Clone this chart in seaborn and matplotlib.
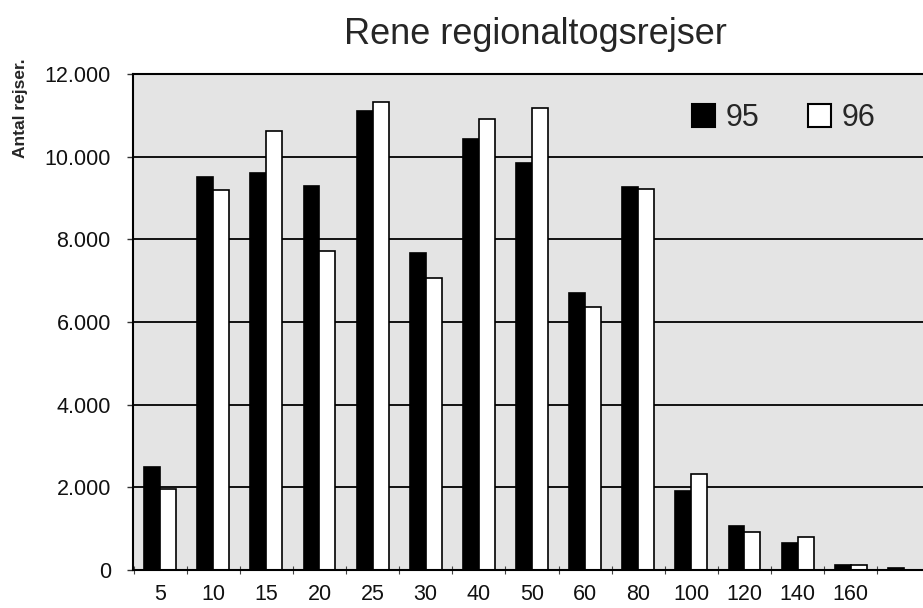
import matplotlib
matplotlib.use("Agg")
import matplotlib.pyplot as plt
import matplotlib.patches as mpatches
from matplotlib.ticker import FuncFormatter
import numpy as np
import pandas as pd
import seaborn as sns

# ---- data ----
title = "Rene regionaltogsrejser"
ylabel = "Antal rejser."
categories = ["5", "10", "15", "20", "25", "30", "40", "50", "60", "80",
              "100", "120", "140", "160", ""]
years = ["95", "96"]
values_95 = [2480, 9500, 9600, 9300, 11100, 7680, 10420, 9840, 6700, 9270,
             1910, 1070, 645, 120, 55]
values_96 = [1950, 9190, 10630, 7720, 11320, 7060, 10900, 11180, 6360, 9220,
             2320, 930, 790, 110, 0]
yticks = [0, 2000, 4000, 6000, 8000, 10000, 12000]

df = pd.DataFrame({
    "afstand": categories * 2,
    "aar": [years[0]] * len(categories) + [years[1]] * len(categories),
    "rejser": values_95 + values_96,
})

sns.set_style("white")
plt.rcParams["font.family"] = ["Liberation Sans", "DejaVu Sans"]

W, H = 923, 608
fig = plt.figure(figsize=(W / 100, H / 100), dpi=100)
ax = fig.add_axes([133 / W, 1 - 570 / H, 790 / W, (570 - 74) / H])
ax.set_facecolor("#e4e4e4")

colors = {"95": "black", "96": "white"}
sns.barplot(data=df, x="afstand", y="rejser", hue="aar", order=categories,
            hue_order=years, palette=colors, edgecolor="black", linewidth=1.2,
            width=0.6, gap=0, saturation=1, ax=ax, legend=False, errorbar=None)

ax.set_ylim(0, 12000)
ax.set_xlim(-0.51, 14.36)
ax.set_yticks(yticks)
ax.yaxis.set_major_formatter(FuncFormatter(lambda v, p: f"{v:,.0f}".replace(",", ".")))
ax.set_xlabel("")
ax.set_ylabel("")

ax.yaxis.grid(True, color="black", linewidth=1.3)
ax.xaxis.grid(False)
ax.set_axisbelow(True)

for side in ["top", "left", "bottom"]:
    ax.spines[side].set_visible(True)
    ax.spines[side].set_color("black")
    ax.spines[side].set_linewidth(1.5)
ax.spines["right"].set_visible(False)

ax.tick_params(axis="y", length=4, width=1, pad=12, labelsize=15.5,
               direction="out", left=True, color="#333333", labelcolor="#111111")
ax.tick_params(axis="x", which="major", length=0, pad=10, labelsize=15.5,
               labelcolor="#111111")
ax.set_xticks(np.arange(-0.5, 14.5, 1), minor=True)
ax.tick_params(axis="x", which="minor", length=6, width=0.8, direction="inout",
               bottom=True, color="#444444")

# legend
handles = [mpatches.Patch(facecolor=colors[y], edgecolor="black", linewidth=1.5)
           for y in years]
ax.legend(handles, years, loc="center left",
          bbox_to_anchor=(692 / W, 1 - 118 / H), bbox_transform=fig.transFigure,
          frameon=False, ncol=2, fontsize=22, handlelength=0.75,
          handleheight=0.75, handletextpad=0.35, columnspacing=1.6,
          borderpad=0, borderaxespad=0)

fig.text(535 / W, 1 - 34 / H, title, ha="center", va="center", fontsize=26)
fig.text(21 / W, 1 - 108 / H, ylabel, ha="center", va="center", rotation=90,
         fontsize=12.5, fontweight="bold")

fig.savefig("out.png", dpi=100)
